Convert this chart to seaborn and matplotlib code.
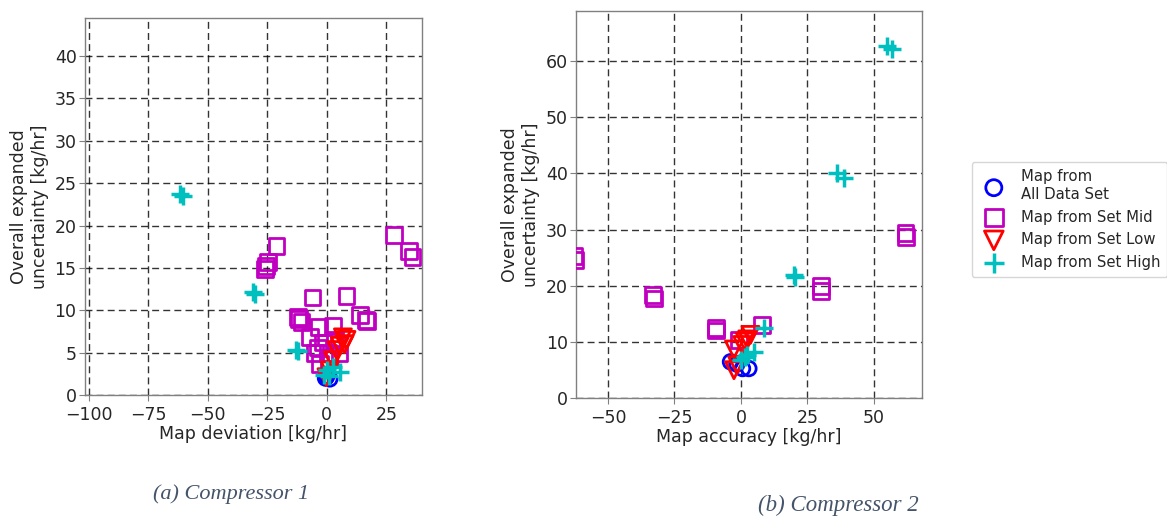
import matplotlib
matplotlib.use("Agg")
import matplotlib.pyplot as plt
import seaborn as sns
import numpy as np

# ---------------- data: Compressor 1 ----------------
c1_all_x = [1.3, 0.0, -0.5]
c1_all_y = [1.9, 2.2, 2.0]
c1_mid_x = [-21.1, -24.6, -26.0, -25.5, 28.2, 34.5, 36.0, -6.0, 8.3, -12.0, -10.6, -11.5,
            13.8, 16.4, 17.0, -7.1, -3.2, 2.6, -3.6, -1.5, 5.4, -2.9, 0.5, 3.5, -5.0, 1.0]
c1_mid_y = [17.6, 15.7, 14.9, 15.2, 18.9, 17.0, 16.3, 11.5, 11.7, 9.2, 8.6, 9.0,
            9.4, 8.9, 8.7, 6.8, 8.0, 8.1, 5.6, 6.2, 4.9, 3.7, 5.0, 6.5, 5.0, 4.2]
c1_low_x = [6.8, 8.3, 4.1, 2.6, -0.1, 1.3, 5.5, 7.5]
c1_low_y = [6.8, 6.5, 5.3, 4.1, 2.1, 2.9, 5.8, 6.0]
c1_high_x = [-61.7, -60.5, -30.9, -30.0, -12.7, -12.0, 0.0, -1.1, 5.5, 2.7, 1.0]
c1_high_y = [23.7, 23.5, 12.1, 11.9, 5.3, 5.2, 2.9, 2.4, 2.7, 3.3, 2.2]

# ---------------- data: Compressor 2 ----------------
c2_all_x = [-3.9, 3.0, 0.6, -1.5]
c2_all_y = [6.4, 5.2, 5.2, 6.0]
c2_mid_x = [-62.6, -62.3, -32.7, -33.0, -9.5, -9.3, 8.0, -0.75, 30.0, 30.2, 61.9, 62.2]
c2_mid_y = [25.3, 24.5, 17.7, 18.3, 12.4, 12.0, 13.0, 10.3, 19.9, 19.1, 29.4, 28.6]
c2_low_x = [-2.6, -1.4, 0.5, 3.6, 2.4, -2.6, 1.5]
c2_low_y = [4.9, 5.8, 9.4, 11.2, 10.4, 8.6, 10.0]
c2_high_x = [55.0, 56.9, 36.2, 38.7, 19.9, 20.5, 8.7, 2.4, 4.9, -0.1, 1.5]
c2_high_y = [62.7, 62.2, 40.1, 39.2, 21.9, 21.5, 12.4, 7.6, 8.2, 6.7, 7.2]

labels = ["Map from\nAll Data Set", "Map from Set Mid", "Map from Set Low", "Map from Set High"]
x_labels = ["Map deviation [kg/hr]", "Map accuracy [kg/hr]"]
y_label = "Overall expanded\nuncertainty [kg/hr]"
captions = ["(a) Compressor 1", "(b) Compressor 2"]

sns.set_style("white")
plt.rcParams['font.family'] = ['DejaVu Sans']

FS = 12.5

fig = plt.figure(figsize=(11.67, 5.17), dpi=100)
ax1 = fig.add_axes([0.0728, 0.2360, 0.2888, 0.7292])
ax2 = fig.add_axes([0.4936, 0.2308, 0.2962, 0.7480])


def draw(ax, ax_, ay_, mx, my, lx, ly, hx, hy):
    sns.scatterplot(x=ax_, y=ay_, ax=ax, marker='o', s=110, facecolor='none',
                    edgecolor='blue', linewidth=2, label=labels[0], zorder=3)
    sns.scatterplot(x=mx, y=my, ax=ax, marker='s', s=130, facecolor='none',
                    edgecolor='#c000c0', linewidth=2, label=labels[1], zorder=3)
    sns.scatterplot(x=lx, y=ly, ax=ax, marker='v', s=150, facecolor='none',
                    edgecolor='red', linewidth=2, label=labels[2], zorder=3)
    sns.scatterplot(x=hx, y=hy, ax=ax, marker='+', s=160, color='#00bfbf',
                    linewidth=2.5, label=labels[3], zorder=4)
    ax.grid(True, color='black', linestyle=(0, (5, 3)), linewidth=1.0, alpha=0.8)
    ax.set_axisbelow(True)
    for sp in ax.spines.values():
        sp.set_color('#808080')
        sp.set_linewidth(1.0)
    ax.tick_params(axis='both', labelsize=FS, length=4, color='#808080',
                   left=True, bottom=True, direction='out')
    ax.tick_params(axis='x', pad=4)
    ax.tick_params(axis='y', pad=2)
    ax.set_ylabel(y_label, fontsize=FS, labelpad=4)


draw(ax1, c1_all_x, c1_all_y, c1_mid_x, c1_mid_y, c1_low_x, c1_low_y, c1_high_x, c1_high_y)
draw(ax2, c2_all_x, c2_all_y, c2_mid_x, c2_mid_y, c2_low_x, c2_low_y, c2_high_x, c2_high_y)

ax1.set_xlim(-101.5, 40)
ax1.set_ylim(0, 44.5)
ax1.set_xticks([-100, -75, -50, -25, 0, 25])
ax1.set_yticks([0, 5, 10, 15, 20, 25, 30, 35, 40])
ax1.set_xlabel(x_labels[0], fontsize=FS, labelpad=1)

ax2.set_xlim(-62, 68)
ax2.set_ylim(0, 69)
ax2.set_xticks([-50, -25, 0, 25, 50])
ax2.set_yticks([0, 10, 20, 30, 40, 50, 60])
ax2.set_xlabel(x_labels[1], fontsize=FS, labelpad=1)

handles, labs = ax2.get_legend_handles_labels()
for a in (ax1, ax2):
    lg = a.get_legend()
    if lg is not None:
        lg.remove()

fig.legend(handles, labs, loc='upper left', bbox_to_anchor=(0.8325, 0.6867),
           fontsize=10.7, frameon=True, edgecolor='#cccccc', fancybox=True,
           handletextpad=0.8, borderpad=0.5, labelspacing=0.52, handlelength=2.0,
           borderaxespad=0.0, markerscale=1.1)

cap_kw = dict(fontsize=16, style='italic', family=['Liberation Serif', 'DejaVu Serif'],
              color='#44546A', ha='center', va='center')
fig.text(231 / 1167, 1 - 494 / 517, captions[0], **cap_kw)
fig.text(838 / 1167, 1 - 505 / 517, captions[1], fontsize=16.5, style='italic',
         family=['Liberation Serif', 'DejaVu Serif'], color='#44546A', ha='center', va='center')

fig.savefig("out.png", dpi=100)
